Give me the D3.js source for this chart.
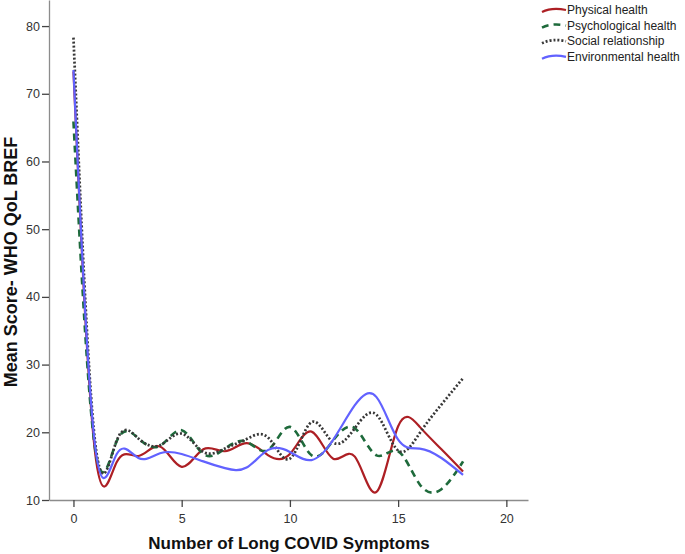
<!DOCTYPE html>
<html>
<head>
<meta charset="utf-8">
<script src="https://cdn.jsdelivr.net/npm/d3@7"></script>
<style>
  body { margin: 0; background: #fff; }
  svg { display: block; font-family: "Liberation Sans", Arial, sans-serif; }
</style>
</head>
<body>
<script>
// number of symptoms 0..18
const symptoms = d3.range(0, 19);

// mean scores, one value per symptom count
const physical      = [73.3, 17.0, 15.6, 16.5, 17.9, 14.9, 17.5, 17.2, 18.4, 16.6, 16.8, 20.1, 16.1, 16.4, 11.2, 20.9, 20.8, 17.5, 14.2];
const psychological = [65.9, 17.6, 18.7, 19.1, 18.0, 20.3, 16.8, 17.6, 18.6, 17.4, 20.8, 16.6, 18.8, 20.6, 16.6, 17.2, 12.3, 11.6, 15.7];
const social        = [78.3, 18.6, 18.8, 19.1, 18.1, 19.8, 17.1, 17.6, 19.0, 19.2, 16.1, 21.5, 18.5, 20.6, 22.6, 17.3, 19.9, 24.1, 28.0];
const environmental = [73.5, 18.0, 16.8, 16.2, 16.9, 16.8, 15.7, 14.7, 14.8, 17.4, 17.1, 15.9, 18.9, 24.0, 25.2, 18.9, 17.6, 16.2, 13.7];

const seriesNames = ["Physical health", "Psychological health", "Social relationship", "Environmental health"];
const xTicks = [0, 5, 10, 15, 20];
const yTicks = [10, 20, 30, 40, 50, 60, 70, 80];

const width = 685, height = 554;

const styles = [
  { color: "#ad1f24", dash: null,  w: 2.2 },
  { color: "#1e6a3b", dash: "7,5", w: 2.6 },
  { color: "#383838", dash: "2,2", w: 2.7 },
  { color: "#6262ff", dash: null,  w: 2.2 }
];

const series = [physical, psychological, social, environmental].map((vals, i) => ({
  name: seriesNames[i],
  style: styles[i],
  points: symptoms.map((s, j) => ({ x: s, y: vals[j] }))
}));

const x = d3.scaleLinear().domain([-1.13, 21.0]).range([49, 528]);
const y = d3.scaleLinear().domain([10, 83.85]).range([500, 0]);

const svg = d3.select("body").append("svg")
  .attr("width", width)
  .attr("height", height);

// axes
const xAxis = svg.append("g")
  .attr("transform", "translate(0,500)")
  .call(d3.axisBottom(x).tickValues(xTicks).tickSize(7).tickSizeOuter(0));
const yAxis = svg.append("g")
  .attr("transform", "translate(49,0)")
  .call(d3.axisLeft(y).tickValues(yTicks).tickSize(7).tickSizeOuter(0));

[xAxis, yAxis].forEach(a => {
  a.select(".domain").attr("stroke", "#8c8c8c").attr("stroke-width", 1.3);
  a.selectAll(".tick line").attr("stroke", "#444").attr("stroke-width", 1.3);
  a.selectAll(".tick text")
    .attr("fill", "#333")
    .style("font-size", "12.5px")
    .style("font-family", "'Liberation Sans', Arial, sans-serif");
});
xAxis.selectAll(".tick text").attr("dy", "1.05em");
yAxis.selectAll(".tick text").attr("x", -9);

// curves
const line = d3.line()
  .x(d => x(d.x))
  .y(d => y(d.y))
  .curve(d3.curveNatural);

svg.append("g")
  .selectAll("path")
  .data(series)
  .join("path")
  .attr("fill", "none")
  .attr("stroke", d => d.style.color)
  .attr("stroke-width", d => d.style.w)
  .attr("stroke-dasharray", d => d.style.dash)
  .attr("d", d => line(d.points));

// axis titles
svg.append("text")
  .attr("x", 289)
  .attr("y", 549)
  .attr("text-anchor", "middle")
  .style("font-size", "17px")
  .style("font-weight", "bold")
  .attr("fill", "#111")
  .text("Number of Long COVID Symptoms");

svg.append("text")
  .attr("transform", "translate(17,262) rotate(-90)")
  .attr("text-anchor", "middle")
  .style("font-size", "18px")
  .style("font-weight", "bold")
  .attr("fill", "#111")
  .text("Mean Score- WHO QoL BREF");

// legend
const legend = svg.append("g")
  .selectAll("g")
  .data(series)
  .join("g")
  .attr("transform", (d, i) => `translate(542,${10 + i * 15.6})`);

legend.append("path")
  .attr("d", "M0,2 Q10,-3 24,0")
  .attr("fill", "none")
  .attr("stroke", d => d.style.color)
  .attr("stroke-width", d => d.style.w)
  .attr("stroke-dasharray", d => d.style.dash);

legend.append("text")
  .attr("x", 25)
  .attr("y", 0)
  .attr("dy", "0.35em")
  .style("font-size", "12px")
  .attr("fill", "#222")
  .text(d => d.name);
</script>
</body>
</html>
